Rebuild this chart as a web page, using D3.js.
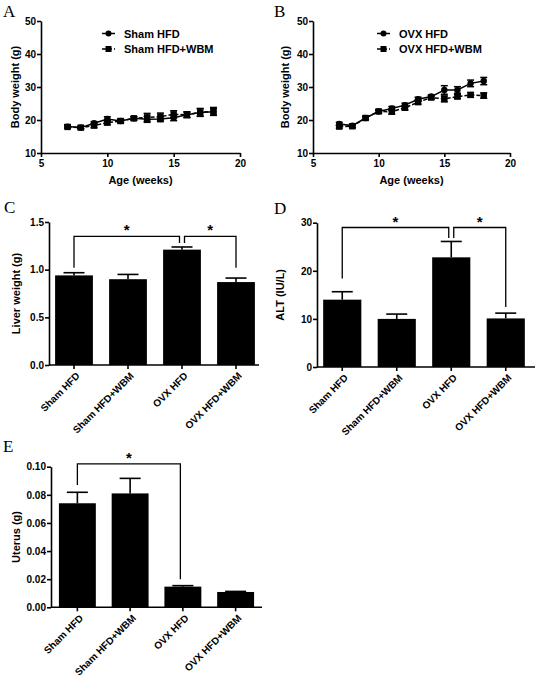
<!DOCTYPE html>
<html><head><meta charset="utf-8">
<script src="https://cdn.jsdelivr.net/npm/d3@7"></script>
<style>
body{margin:0;background:#fff;}
text{font-family:"Liberation Sans",Arial,sans-serif;font-weight:bold;fill:#000;}
.letter{font-family:"Liberation Serif","Times New Roman",serif;font-weight:normal;font-size:17px;}
</style></head>
<body>
<script>
// ---- data ----
const weeks = [7, 8, 9, 10, 11, 12, 13, 14, 15, 16, 17, 18];
const shamHFD     = [18.0, 17.7, 19.0, 20.3, 19.7, 20.5, 20.2, 20.3, 20.7, 21.6, 22.3, 22.5];
const shamHFDErr  = [0.5, 0.4, 0.5, 0.7, 0.5, 0.5, 0.9, 0.8, 0.9, 0.8, 1.1, 1.0];
const shamWBM     = [17.9, 17.7, 18.3, 19.2, 19.7, 20.5, 20.8, 21.0, 21.7, 21.6, 22.3, 22.6];
const shamWBMErr  = [0.4, 0.4, 0.6, 0.6, 0.6, 0.5, 1.2, 1.1, 1.1, 0.9, 1.2, 1.2];
const ovxHFD      = [18.8, 18.3, 20.6, 22.6, 23.5, 24.5, 26.3, 27.1, 29.1, 29.1, 31.1, 31.8];
const ovxHFDErr   = [0.5, 0.5, 0.5, 0.5, 0.6, 0.6, 0.6, 0.5, 1.3, 1.0, 1.0, 1.1];
const ovxWBM      = [18.0, 18.1, 20.6, 22.6, 22.5, 23.7, 25.4, 26.8, 26.4, 27.1, 27.6, 27.4];
const ovxWBMErr   = [0.5, 0.5, 0.5, 0.5, 0.7, 0.6, 0.6, 0.5, 0.9, 0.6, 0.7, 0.8];

const groups = ["Sham HFD", "Sham HFD+WBM", "OVX HFD", "OVX HFD+WBM"];
const liverMean = [0.94, 0.90, 1.21, 0.87];
const liverErr  = [0.028, 0.05, 0.028, 0.042];
const altMean   = [14.0, 10.0, 22.8, 10.1];
const altErr    = [1.65, 1.0, 3.3, 1.1];
const uterusMean = [0.074, 0.081, 0.0147, 0.0109];
const uterusErr  = [0.0078, 0.0107, 0.0007, 0.0004];

const weekTicks = [5, 10, 15, 20];
const bwTicks = [10, 20, 30, 40, 50];
const liverTicks = [0, 0.5, 1.0, 1.5];
const altTicks = [0, 10, 20, 30];
const uterusTicks = [0, 0.02, 0.04, 0.06, 0.08, 0.10];

// significance brackets: [groupA, groupB, top, endA, endB]
const liverSig  = [[0, 2, 1.35, 1.02, 1.28], [2, 3, 1.35, 1.28, 1.02]];
const altSig    = [[0, 2, 29.0, 18.4, 26.8], [2, 3, 29.0, 26.8, 12.5]];
const uterusSig = [[0, 2, 0.102, 0.087, 0.020]];

// ---- drawing ----
const svg = d3.select("body").append("svg").attr("width", 537).attr("height", 684);

function styleAxis(g) {
  g.selectAll("path,line").attr("stroke", "#000").attr("stroke-width", 1.6);
  g.selectAll("text").attr("font-size", 10).attr("font-weight", "bold")
    .attr("font-family", '"Liberation Sans", Arial, sans-serif');
}

function linePanel(o) {
  const x = d3.scaleLinear().domain([5, 20]).range(o.xr);
  const y = d3.scaleLinear().domain([10, 50]).range(o.yr);
  const ga = svg.append("g").attr("transform", `translate(0,${o.yr[0]})`)
    .call(d3.axisBottom(x).tickValues(weekTicks).tickSize(4).tickSizeOuter(0).tickPadding(3));
  styleAxis(ga);
  const gy = svg.append("g").attr("transform", `translate(${o.xr[0]},0)`)
    .call(d3.axisLeft(y).tickValues(bwTicks).tickSize(4).tickSizeOuter(0).tickPadding(1));
  styleAxis(gy);
  svg.append("text").attr("x", (o.xr[0] + o.xr[1]) / 2).attr("y", 184).attr("text-anchor", "middle")
    .attr("font-size", 11).text("Age (weeks)");
  svg.append("text").attr("transform", `translate(${o.ytx},${(o.yr[0] + o.yr[1]) / 2}) rotate(-90)`)
    .attr("text-anchor", "middle").attr("font-size", 11).text("Body weight (g)");

  o.series.forEach((s, si) => {
    const pts = weeks.map((w, i) => ({w, v: s.v[i], e: s.e[i]}));
    const g = svg.append("g");
    g.append("path").datum(pts).attr("fill", "none").attr("stroke", "#000").attr("stroke-width", 1.5)
      .attr("stroke-dasharray", s.dash ? "4,2" : null)
      .attr("d", d3.line().x(d => x(d.w)).y(d => y(d.v)));
    pts.forEach(d => {
      const cx = x(d.w);
      g.append("line").attr("x1", cx).attr("x2", cx).attr("y1", y(d.v - d.e)).attr("y2", y(d.v + d.e))
        .attr("stroke", "#000").attr("stroke-width", 1.5);
      [d.v - d.e, d.v + d.e].forEach(vv => g.append("line").attr("x1", cx - 3.5).attr("x2", cx + 3.5)
        .attr("y1", y(vv)).attr("y2", y(vv)).attr("stroke", "#000").attr("stroke-width", 1.5));
      if (s.sym === "circle") g.append("circle").attr("cx", cx).attr("cy", y(d.v)).attr("r", 3.2);
      else g.append("rect").attr("x", cx - 3.2).attr("y", y(d.v) - 3.2).attr("width", 6.4).attr("height", 6.4);
    });
    // legend
    const ly = o.legY[si];
    g.append("line").attr("x1", o.legX).attr("x2", o.legX + 13).attr("y1", ly).attr("y2", ly)
      .attr("stroke", "#000").attr("stroke-width", 1.5).attr("stroke-dasharray", s.dash ? "4,2" : null);
    if (s.sym === "circle") g.append("circle").attr("cx", o.legX + 6.5).attr("cy", ly).attr("r", 3);
    else g.append("rect").attr("x", o.legX + 3.5).attr("y", ly - 3).attr("width", 6).attr("height", 6);
    g.append("text").attr("x", o.legX + 22).attr("y", ly + 4).attr("font-size", 11).text(s.name);
  });
}

function barPanel(o) {
  const x = d3.scaleBand().domain(groups).range(o.xr).paddingInner(0.3).paddingOuter(0.15);
  const y = d3.scaleLinear().domain([0, o.max]).range(o.yr);
  const gx = svg.append("g").attr("transform", `translate(0,${o.yr[0]})`);
  gx.append("line").attr("x1", o.axX).attr("x2", o.axEnd).attr("y1", 0).attr("y2", 0)
    .attr("stroke", "#000").attr("stroke-width", 1.6);
  groups.forEach(gname => {
    const cx = x(gname) + x.bandwidth() / 2;
    gx.append("line").attr("x1", cx).attr("x2", cx).attr("y1", 0).attr("y2", 4)
      .attr("stroke", "#000").attr("stroke-width", 1.6);
    gx.append("text").attr("transform", `translate(${cx + 4},${9}) rotate(-45)`)
      .attr("text-anchor", "end").attr("dy", "0.35em").attr("font-size", 10).text(gname);
  });
  const gy = svg.append("g").attr("transform", `translate(${o.axX},0)`)
    .call(d3.axisLeft(y).tickValues(o.ticks).tickFormat(d3.format(o.fmt)).tickSize(4).tickSizeOuter(0).tickPadding(1));
  styleAxis(gy);
  svg.append("text").attr("transform", `translate(${o.ytx},${(o.yr[0] + o.yr[1]) / 2}) rotate(-90)`)
    .attr("text-anchor", "middle").attr("font-size", 11).text(o.title);

  const bw = x.bandwidth();
  groups.forEach((gname, i) => {
    const cx = x(gname) + bw / 2;
    const top = y(o.mean[i] + o.err[i]);
    svg.append("line").attr("x1", cx).attr("x2", cx).attr("y1", y(o.mean[i])).attr("y2", top)
      .attr("stroke", "#000").attr("stroke-width", 1.6);
    svg.append("line").attr("x1", cx - 10.5).attr("x2", cx + 10.5).attr("y1", top).attr("y2", top)
      .attr("stroke", "#000").attr("stroke-width", 1.6);
    svg.append("rect").attr("x", x(gname)).attr("y", y(o.mean[i])).attr("width", bw)
      .attr("height", y(0) - y(o.mean[i])).attr("fill", "#000");
  });

  o.sig.forEach(s => {
    const ca = x(groups[s[0]]) + bw / 2 + (s[0] === 2 ? 2.5 : 0);
    const cb = x(groups[s[1]]) + bw / 2 + (s[1] === 2 ? -2.5 : 0);
    const p = d3.path();
    p.moveTo(ca, y(s[3])); p.lineTo(ca, y(s[2])); p.lineTo(cb, y(s[2])); p.lineTo(cb, y(s[4]));
    svg.append("path").attr("d", p.toString()).attr("fill", "none").attr("stroke", "#000").attr("stroke-width", 1.3);
    svg.append("text").attr("x", (ca + cb) / 2).attr("y", y(s[2]) - 1).attr("text-anchor", "middle")
      .attr("font-size", 15).text("*");
  });
}

linePanel({xr: [41, 240], yr: [153, 21], ytx: 19, legX: 102, legY: [33.5, 49],
  series: [{name: "Sham HFD", v: shamHFD, e: shamHFDErr, sym: "circle", dash: false},
           {name: "Sham HFD+WBM", v: shamWBM, e: shamWBMErr, sym: "square", dash: true}]});
linePanel({xr: [313, 510], yr: [153, 21], ytx: 289, legX: 377, legY: [33.5, 49],
  series: [{name: "OVX HFD", v: ovxHFD, e: ovxHFDErr, sym: "circle", dash: false},
           {name: "OVX HFD+WBM", v: ovxWBM, e: ovxWBMErr, sym: "square", dash: true}]});

barPanel({xr: [47, 263], yr: [365, 222], axX: 49, axEnd: 259, max: 1.5, ticks: liverTicks, fmt: ".1f",
  mean: liverMean, err: liverErr, title: "Liver weight (g)", ytx: 20, sig: liverSig});
barPanel({xr: [315, 533], yr: [367, 222.7], axX: 317, axEnd: 535, max: 30, ticks: altTicks, fmt: "d",
  mean: altMean, err: altErr, title: "ALT (IU/L)", ytx: 284, sig: altSig});
barPanel({xr: [51, 262], yr: [607.3, 466.7], axX: 51, axEnd: 262, max: 0.10, ticks: uterusTicks, fmt: ".2f",
  mean: uterusMean, err: uterusErr, title: "Uterus (g)", ytx: 20, sig: uterusSig});

// panel letters
[["A", 3, 17], ["B", 274, 17], ["C", 4, 213], ["D", 274, 214], ["E", 3, 452]].forEach(l =>
  svg.append("text").attr("class", "letter").attr("x", l[1]).attr("y", l[2]).text(l[0]));
</script>
</body></html>
